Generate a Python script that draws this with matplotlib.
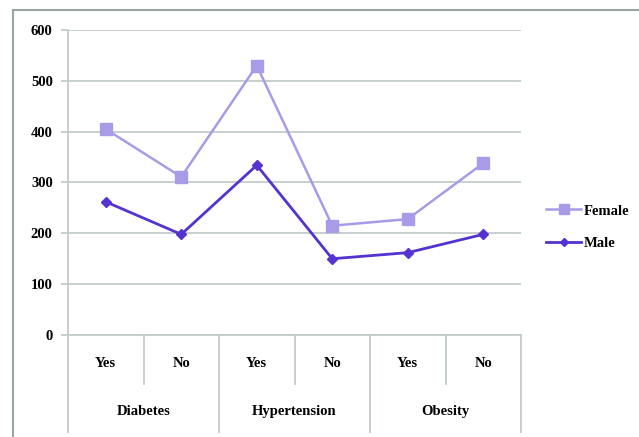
import matplotlib.pyplot as plt
import matplotlib.transforms as mtransforms
from matplotlib.lines import Line2D

plt.rcParams['font.family'] = ['Liberation Serif', 'DejaVu Serif']
plt.rcParams['font.weight'] = 'bold'

answers = ['Yes', 'No', 'Yes', 'No', 'Yes', 'No']
conditions = ['Diabetes', 'Hypertension', 'Obesity']
female = [405, 311, 530, 215, 228, 338]
male = [262, 198, 334, 150, 162, 198]

grid_col = '#c3cdcc'
female_col = '#a99be8'
male_col = '#5533d0'
fs = 10.5

fig = plt.figure(figsize=(6.39, 4.37), dpi=100)
ax = fig.add_axes([68 / 639, 102 / 437, 453 / 639, 305 / 437])

x = list(range(len(answers)))
ax.plot(x, female, color=female_col, lw=1.8, marker='s', ms=8.5, label='Female')
ax.plot(x, male, color=male_col, lw=2.0, marker='D', ms=5, label='Male')

ax.set_xlim(-0.5, len(answers) - 0.5)
ax.set_ylim(0, 600)
ax.set_yticks(range(0, 601, 100))
ax.set_xticks([])
ax.yaxis.grid(True, color=grid_col, lw=1.3)
ax.set_axisbelow(True)
ax.tick_params(axis='y', length=5, color=grid_col, width=1.3, labelsize=fs, pad=6)
for s in ['top', 'right']:
    ax.spines[s].set_visible(False)
for s in ['left', 'bottom']:
    ax.spines[s].set_color(grid_col)
    ax.spines[s].set_linewidth(1.3)

# two-level category axis below the plot
trans = mtransforms.blended_transform_factory(ax.transData, ax.transAxes)
for i, a in enumerate(answers):
    ax.text(i, -0.092, a, transform=trans, ha='center', va='center', fontsize=fs)
for g, name in enumerate(conditions):
    ax.text(2 * g + 0.5, -0.252, name, transform=trans, ha='center', va='center', fontsize=fs)
    ax.plot([2 * g + 0.5] * 2, [0, -0.161], transform=trans, color=grid_col, lw=1.3, clip_on=False)
for b in [-0.5, 1.5, 3.5, 5.5]:
    ax.plot([b, b], [0, -0.318], transform=trans, color=grid_col, lw=1.3, clip_on=False)

# outer chart frame
frame_col = '#9aa6a5'
fig.add_artist(Line2D([13 / 639, 13 / 639], [0, 1 - 10 / 437], color=frame_col, lw=1.5))
fig.add_artist(Line2D([13 / 639, 1], [1 - 10 / 437, 1 - 10 / 437], color=frame_col, lw=1.5))

leg_handles = [
    Line2D([], [], color=female_col, lw=1.8, marker='s', ms=6.5),
    Line2D([], [], color=male_col, lw=2.0, marker='D', ms=4.5),
]
fig.legend(leg_handles, ['Female', 'Male'], loc='center left',
           bbox_to_anchor=(533 / 639, 1 - 227 / 437), frameon=False,
           fontsize=fs, handlelength=2.4, handletextpad=0.15, labelspacing=1.3)

fig.savefig('out.png', dpi=100)
